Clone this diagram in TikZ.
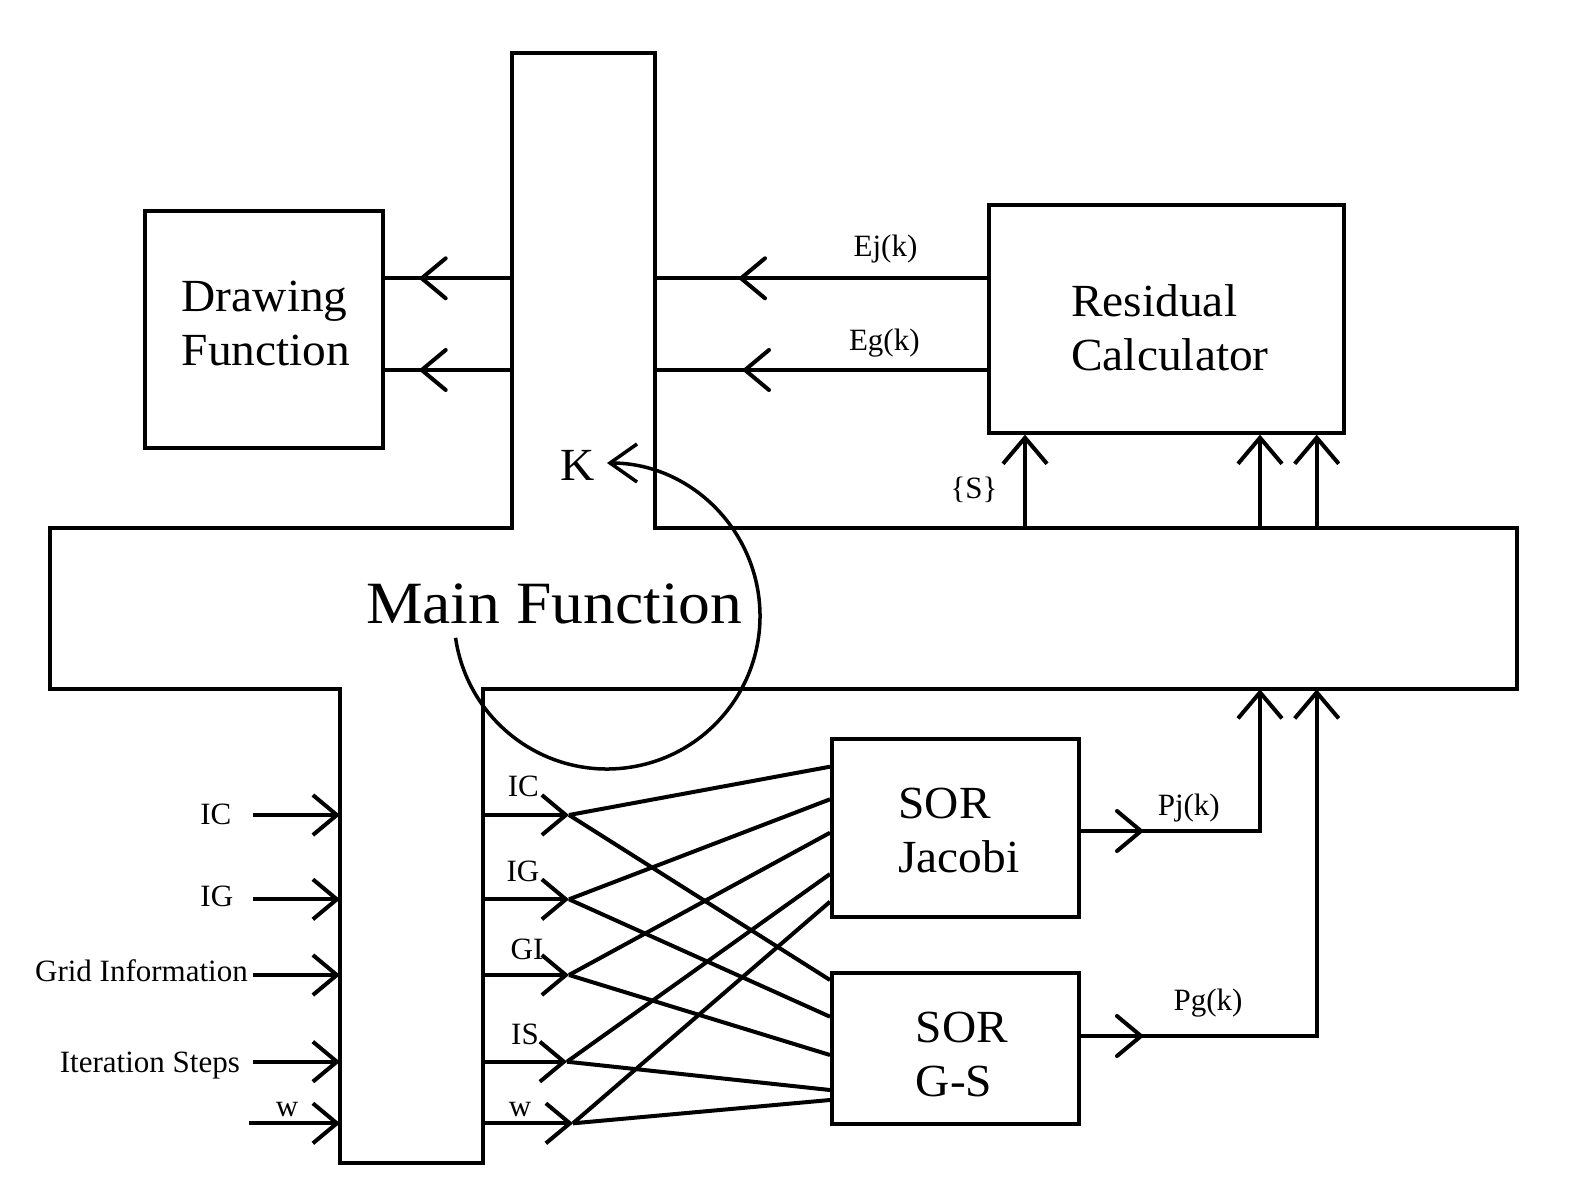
\documentclass[tikz,border=0pt]{standalone}
\usepackage{fontspec}
\setmainfont{Liberation Serif}
\newfontfamily\boxfont[FakeStretch=1.03]{Liberation Serif}
\newfontfamily\bigfont[FakeStretch=1.06]{Liberation Serif}
\usetikzlibrary{arrows.meta,decorations.markings,calc}

\tikzset{
  wire/.style={line width=4pt},
  blk/.style={draw, line width=4pt, rectangle, inner sep=0pt},
  boxtxt/.style={font=\boxfont\fontsize{46}{54}\selectfont, align=left, inner sep=0pt},
  bigtxt/.style={font=\bigfont\fontsize{60}{70}\selectfont, inner sep=0pt},
  lbl/.style={font=\fontsize{31}{37}\selectfont, inner sep=0pt},
  tip/.style={-{Straight Barb[length=24pt,width=40pt]}},
  uptip/.style={-{Straight Barb[length=26pt,width=44pt]}},
  headat/.style={postaction={decorate,decoration={markings,
      mark=at position #1 with {\draw[arrows=-,line width=4pt,line cap=round,line join=round] (-24,20)--(0,0)--(-24,-20);}}}},
}

\begin{document}
\begin{tikzpicture}[x=1pt,y=-1pt]
\useasboundingbox (0,0) rectangle (1573,1193);

% outline of the main function block
\coordinate (m1) at (511.7,53.3);
\coordinate (m2) at (655,53.3);
\coordinate (m3) at (655,527.7);
\coordinate (m4) at (1516.7,527.7);
\coordinate (m5) at (1516.7,689.3);
\coordinate (m6) at (482.7,689.3);
\coordinate (m7) at (482.7,1162.7);
\coordinate (m8) at (340,1162.7);
\coordinate (m9) at (340,689.3);
\coordinate (m10) at (50,689.3);
\coordinate (m11) at (50,527.7);
\coordinate (m12) at (511.7,527.7);
\draw[wire] (m1) -- (m2) -- (m3) -- (m4) -- (m5) -- (m6) -- (m7) -- (m8) -- (m9) -- (m10) -- (m11) -- (m12) -- cycle;
\node[bigtxt, anchor=base west] (maintxt) at (366,623.3) {Main Function};

% blocks
\node[blk, minimum width=238pt, minimum height=237.3pt] (drawbox) at (264,329.3) {};
\node[boxtxt] (drawtxt) at (266,323) {Drawing\\Function};

\node[blk, minimum width=355pt, minimum height=227.7pt] (resbox) at (1166.5,318.8) {};
\node[boxtxt] (restxt) at (1170,327.3) {Residual\\Calculator};

\node[blk, minimum width=247pt, minimum height=177.7pt] (sorJ) at (955.5,827.8) {};
\node[boxtxt] (sorJtxt) at (959,830.5) {SOR\\Jacobi};

\node[blk, minimum width=247pt, minimum height=151pt] (sorG) at (955.5,1048.5) {};
\node[boxtxt] (sorGtxt) at (962,1054) {SOR\\G-S};

% main -> drawing function
\draw[wire, headat=90pt] (m1 |- 0,278.3) -- (drawbox.east |- 0,278.3);
\draw[wire, headat=90pt] (m1 |- 0,370) -- (drawbox.east |- 0,370);

% residual calculator -> main
\draw[wire, headat=246pt] (resbox.west |- 0,278.3) -- (m2 |- 0,278.3);
\draw[wire, headat=242pt] (resbox.west |- 0,370) -- (m2 |- 0,370);
\node[lbl, anchor=base] (lEj) at (885.5,256) {Ej(k)};
\node[lbl, anchor=base] (lEg) at (884.3,350.7) {Eg(k)};

% main -> residual calculator
\draw[wire, uptip] (m3 -| 1025,0) -- (resbox.south -| 1025,0);
\draw[wire, uptip] (m3 -| 1260,0) -- (resbox.south -| 1260,0);
\draw[wire, uptip] (m3 -| 1316.7,0) -- (resbox.south -| 1316.7,0);
\node[lbl, anchor=base] (lS) at (974,498) {\{S\}};

% solvers -> main
\coordinate (upJ) at (1260,689.3);
\coordinate (upG) at (1316.7,689.3);
\draw[wire, uptip, headat=60pt] (sorJ.east |- 0,831) -| (upJ);
\draw[wire, uptip, headat=60pt] (sorG.east |- 0,1036) -| (upG);
\node[lbl, anchor=base] (lPj) at (1188.8,815) {Pj(k)};
\node[lbl, anchor=base] (lPg) at (1208,1010) {Pg(k)};

% external inputs
\coordinate (srcIC) at (252.6,815);
\coordinate (srcIG) at (252.6,899.3);
\coordinate (srcGI) at (252.6,975);
\coordinate (srcIS) at (252.6,1061.7);
\coordinate (srcW)  at (248.7,1123.3);
\foreach \s in {srcIC,srcIG,srcGI,srcIS,srcW}
  \draw[wire, tip] (\s) -- (m8 |- \s);
\node[lbl, anchor=base east] (inIC) at (231.5,824) {IC};
\node[lbl, anchor=base east] (inIG) at (233.4,906.7) {IG};
\node[lbl, anchor=base east] (inGI) at (248,981.7) {Grid Information};
\node[lbl, anchor=base east] (inIS) at (240,1072.7) {Iteration Steps};
\node[lbl, anchor=base] (inW) at (287,1116.7) {w};

% main -> solvers
\coordinate (jIC) at (569,815);
\coordinate (jIG) at (569,899.3);
\coordinate (jGI) at (569,975);
\coordinate (jIS) at (567,1061.7);
\coordinate (jW)  at (573,1123.3);
\foreach \j in {jIC,jIG,jGI,jIS,jW}
  \draw[wire, tip] (m7 |- \j) -- (\j);
\draw[wire] (jIC) -- (sorJ.west |- 0,766.7);
\draw[wire] (jIC) -- (sorG.west |- 0,980);
\draw[wire] (jIG) -- (sorJ.west |- 0,799.3);
\draw[wire] (jIG) -- (sorG.west |- 0,1016.7);
\draw[wire] (jGI) -- (sorJ.west |- 0,832.7);
\draw[wire] (jGI) -- (sorG.west |- 0,1055);
\draw[wire] (jIS) -- (sorJ.west |- 0,874);
\draw[wire] (jIS) -- (sorG.west |- 0,1090);
\draw[wire] (jW) -- (sorJ.west |- 0,901.7);
\draw[wire] (jW) -- (sorG.west |- 0,1100);
\node[lbl, anchor=base] (oIC) at (523.3,796) {IC};
\node[lbl, anchor=base] (oIG) at (523,881.7) {IG};
\node[lbl, anchor=base] (oGI) at (527,959) {GI};
\node[lbl, anchor=base] (oIS) at (525,1044) {IS};
\node[lbl, anchor=base] (oW) at (520,1116.7) {w};

% iteration loop
\coordinate (kc) at (607,616);
\draw[line width=3.5pt, -{Straight Barb[length=27pt,width=38pt]}]
  ([shift={(171.8:153)}]kc) arc[start angle=171.8, end angle=-90, radius=153];
\node[boxtxt, anchor=base] (kl) at (578,480) {K};

\end{tikzpicture}
\end{document}
